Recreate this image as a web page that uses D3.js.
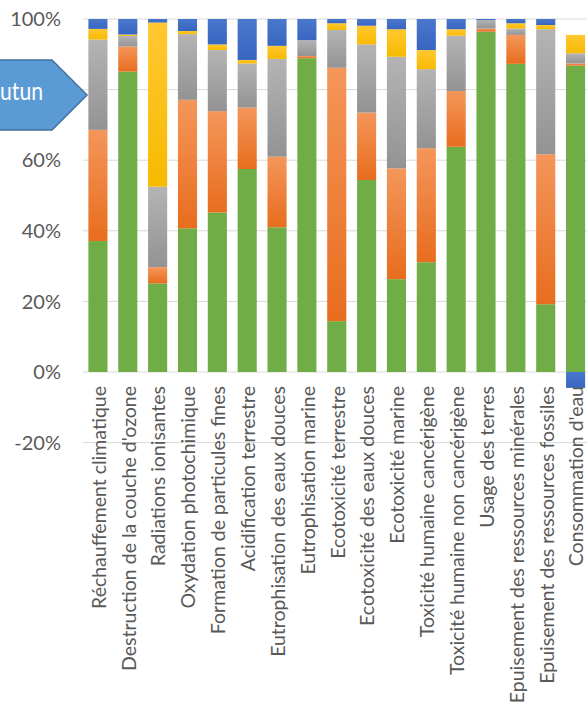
<!DOCTYPE html>
<html>
<head>
<meta charset="utf-8">
<script src="https://cdn.jsdelivr.net/npm/d3@7"></script>
<style>
  html, body { margin: 0; padding: 0; background: #fff; overflow: hidden; }
  svg { display: block; }
</style>
</head>
<body>
<svg id="chart"></svg>
<script>
const categories = [
  "Réchauffement climatique", "Destruction de la couche d'ozone", "Radiations ionisantes",
  "Oxydation photochimique", "Formation de particules fines", "Acidification terrestre",
  "Eutrophisation des eaux douces", "Eutrophisation marine", "Ecotoxicité terrestre",
  "Ecotoxicité des eaux douces", "Ecotoxicité marine", "Toxicité humaine cancérigène",
  "Toxicité humaine non cancérigène", "Usage des terres", "Epuisement des ressources minérales",
  "Epuisement des ressources fossiles", "Consommation d'eau"
];

// contributions in %, bottom to top
const greenValues  = [37.1, 85.1, 25.1, 40.7, 45.2, 57.5, 41.0, 88.9, 14.4, 54.4, 26.3, 31.1, 63.8, 96.4, 87.3, 19.2, 86.8];
const orangeValues = [31.5,  7.1,  4.6, 36.4, 28.7, 17.4, 20.0,  0.6, 71.8, 19.1, 31.4, 32.3, 15.8,  0.9,  8.2, 42.5,  0.6];
const grayValues   = [25.6,  3.0, 22.8, 18.6, 17.3, 12.5, 27.7,  4.5, 10.7, 19.3, 31.6, 22.4, 15.7,  2.4,  1.8, 35.4,  2.9];
const yellowValues = [ 3.0,  0.4, 46.5,  0.9,  1.6,  1.0,  3.7,  0.0,  1.9,  5.3,  7.8,  5.4,  1.8,  0.0,  1.5,  1.2,  5.2];
const blueValues   = [ 2.8,  4.4,  1.0,  3.4,  7.2, 11.6,  7.6,  6.0,  1.2,  1.9,  2.9,  8.8,  2.9,  0.3,  1.2,  1.7, -4.5];

const gridTicks = [-20, 0, 20, 40, 60, 80, 100];
// 80% label sits under the callout shape in the original, so it is not shown
const labelTicks = [-20, 0, 20, 40, 60, 100];

const series = [
  { key: "green",  values: greenValues,  top: "#70AD47", bottom: "#70AD47" },
  { key: "orange", values: orangeValues, top: "#F4965A", bottom: "#E86D1E" },
  { key: "gray",   values: grayValues,   top: "#B4B4B4", bottom: "#939393" },
  { key: "yellow", values: yellowValues, top: "#FFC832", bottom: "#F7BA00" },
  { key: "blue",   values: blueValues,   top: "#4A78CC", bottom: "#3865C0" }
];

const width = 587, height = 708;
const svg = d3.select("#chart").attr("width", width).attr("height", height);

const rows = categories.map((c, i) => {
  const r = { cat: c };
  series.forEach(s => r[s.key] = s.values[i]);
  return r;
});

const stack = d3.stack()
  .keys(series.map(s => s.key))
  .offset(d3.stackOffsetDiverging);
const stacked = stack(rows);

const x = d3.scaleBand()
  .domain(categories)
  .range([83, 590.5])
  .paddingInner(0.36)
  .paddingOuter(0.18);

const y = d3.scaleLinear()
  .domain([-20, 100])
  .range([442.6, 19]);

// gradients
const defs = svg.append("defs");
series.forEach(s => {
  const g = defs.append("linearGradient")
    .attr("id", "grad-" + s.key)
    .attr("x1", 0).attr("y1", 0).attr("x2", 0).attr("y2", 1);
  g.append("stop").attr("offset", "0%").attr("stop-color", s.top);
  g.append("stop").attr("offset", "100%").attr("stop-color", s.bottom);
});

// gridlines
svg.append("g")
  .selectAll("line")
  .data(gridTicks)
  .enter()
  .append("line")
  .attr("x1", 83)
  .attr("x2", width)
  .attr("y1", d => y(d))
  .attr("y2", d => y(d))
  .attr("stroke", "#D9D9D9")
  .attr("stroke-width", 1);

// tick labels
svg.append("g")
  .selectAll("text")
  .data(labelTicks)
  .enter()
  .append("text")
  .attr("x", 61)
  .attr("y", d => y(d))
  .attr("dy", "0.36em")
  .attr("text-anchor", "end")
  .style("font-family", "Lato, 'Open Sans', sans-serif")
  .style("font-size", "20px")
  .style("fill", "#595959")
  .text(d => d + "%");

// bars
svg.append("g")
  .selectAll("g")
  .data(stacked)
  .enter()
  .append("g")
  .attr("fill", d => "url(#grad-" + d.key + ")")
  .selectAll("rect")
  .data(d => d.filter(p => p[1] !== p[0]))
  .enter()
  .append("rect")
  .attr("x", d => x(d.data.cat))
  .attr("y", d => y(Math.max(d[0], d[1])))
  .attr("width", x.bandwidth())
  .attr("height", d => Math.abs(y(d[0]) - y(d[1])));

// category labels
svg.append("g")
  .selectAll("text")
  .data(categories)
  .enter()
  .append("text")
  .attr("transform", d => `translate(${x(d) + x.bandwidth() / 2 + 1},386) rotate(-90)`)
  .attr("dy", "0.35em")
  .attr("text-anchor", "end")
  .style("font-family", "Lato, 'Open Sans', sans-serif")
  .style("font-size", "19.5px")
  .style("fill", "#595959")
  .text(d => d);

// callout shape
const callout = svg.append("g");
callout.append("path")
  .attr("d", "M-10,60 L52,60 L87,95 L52,130 L-10,130 Z")
  .attr("fill", "#5B9BD5")
  .attr("stroke", "#41719C")
  .attr("stroke-width", 1.5);
callout.append("text")
  .attr("x", 0)
  .attr("y", 100)
  .attr("textLength", 43)
  .attr("lengthAdjust", "spacingAndGlyphs")
  .style("font-family", "Lato, 'Open Sans', sans-serif")
  .style("font-size", "25px")
  .style("fill", "#fff")
  .text("utun");
</script>
</body>
</html>
